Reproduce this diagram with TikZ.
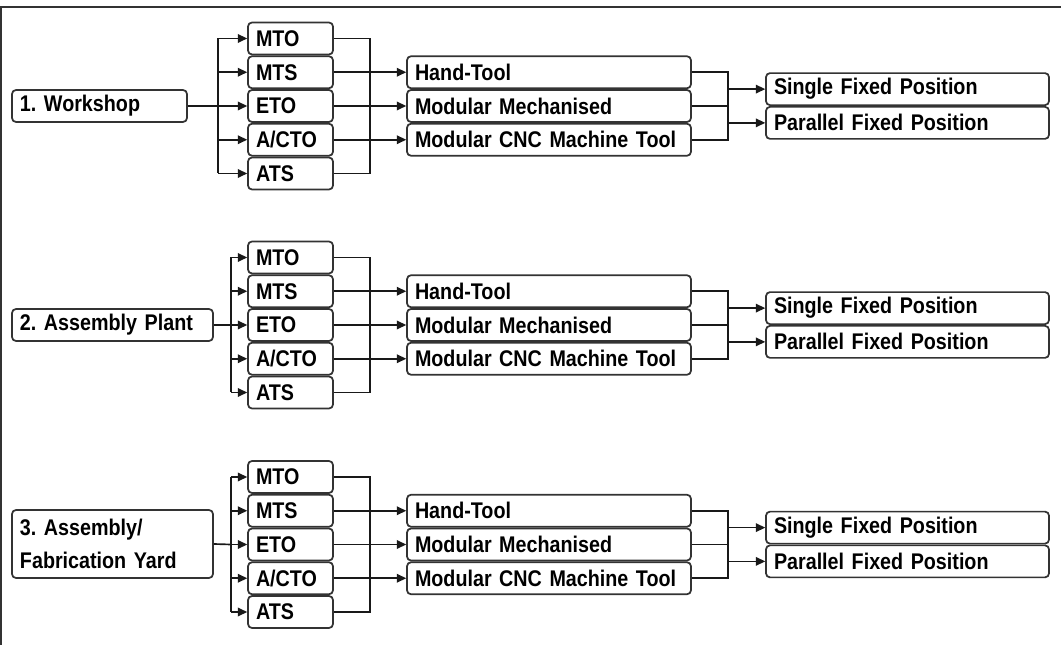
\documentclass[tikz,border=0pt]{standalone}
\usepackage{fontspec}
\setmainfont{Liberation Sans}[FakeStretch=0.87]
\usetikzlibrary{arrows.meta}
\begin{document}
\frenchspacing
\begin{tikzpicture}[x=0.75pt,y=-0.75pt,
  box/.style={draw=black!80, line width=1.3pt, rounded corners=3pt, inner xsep=6pt, inner ysep=0pt,
    minimum height=24pt, align=left, font=\fontsize{17}{24.5}\selectfont\bfseries},
  mainbox/.style={box, text width=#1},
  smallbox/.style={box, text width=51.75pt},
  midbox/.style={box, text width=201pt},
  rightbox/.style={box, text width=200.25pt},
  conn/.style={line width=1.25pt, draw=black!90},
  arr/.style={conn, -{Triangle[length=7pt,width=6.5pt]}}
]
\useasboundingbox (0,0) rectangle (1061,645);
\draw[line width=1.5pt, black!80] (1,645) -- (1,7) -- (1061,7);

% main boxes
\node[mainbox=119.25pt] (main1) at (99.5,106) {1. Workshop};
\node[mainbox=138.75pt] (main2) at (112.5,325) {2. Assembly Plant};
\node[mainbox=138.75pt, minimum height=51pt] (main3) at (112.5,544) {3. Assembly/\\Fabrication Yard};

\foreach \g/\c/\L in {1/106/218, 2/325/231, 3/544.5/231}{
  % small boxes
  \node[smallbox] (s\g-1) at (290.5,{\c-67.5}) {MTO};
  \node[smallbox] (s\g-2) at (290.5,{\c-33.75}) {MTS};
  \node[smallbox] (s\g-3) at (290.5,{\c}) {ETO};
  \node[smallbox] (s\g-4) at (290.5,{\c+33.75}) {A/CTO};
  \node[smallbox] (s\g-5) at (290.5,{\c+67.5}) {ATS};
  % middle boxes
  \node[midbox] (m\g-1) at (549,{\c-33.75}) {Hand-Tool};
  \node[midbox] (m\g-2) at (549,{\c}) {Modular Mechanised};
  \node[midbox] (m\g-3) at (549,{\c+33.75}) {Modular CNC Machine Tool};
  % right boxes
  \node[rightbox] (r\g-1) at (907.5,{\c-16.875}) {Single Fixed Position};
  \node[rightbox] (r\g-2) at (907.5,{\c+16.875}) {Parallel Fixed Position};
  % junction coordinates
  \coordinate (L\g) at (\L,\c);
  \coordinate (V\g) at (370,\c);
  \coordinate (W\g) at (728,\c);
  % main -> small
  \draw[conn] (main\g.east) -- (L\g);
  \draw[conn] (L\g |- s\g-1.west) -- (L\g |- s\g-5.west);
  \foreach \k in {1,...,5}{
    \draw[arr] (L\g |- s\g-\k.west) -- (s\g-\k.west);
  }
  % small -> middle
  \draw[conn] (s\g-1.east) -- (V\g |- s\g-1.east) -- (V\g |- s\g-5.east) -- (s\g-5.east);
  \draw[arr] (s\g-2.east) -- (m\g-1.west);
  \draw[arr] (s\g-3.east) -- (m\g-2.west);
  \draw[arr] (s\g-4.east) -- (m\g-3.west);
  % middle -> right
  \draw[conn] (m\g-1.east) -- (W\g |- m\g-1.east) -- (W\g |- m\g-3.east) -- (m\g-3.east);
  \draw[conn] (m\g-2.east) -- (W\g |- m\g-2.east);
  \draw[arr] (W\g |- r\g-1.west) -- (r\g-1.west);
  \draw[arr] (W\g |- r\g-2.west) -- (r\g-2.west);
}
\end{tikzpicture}
\end{document}
